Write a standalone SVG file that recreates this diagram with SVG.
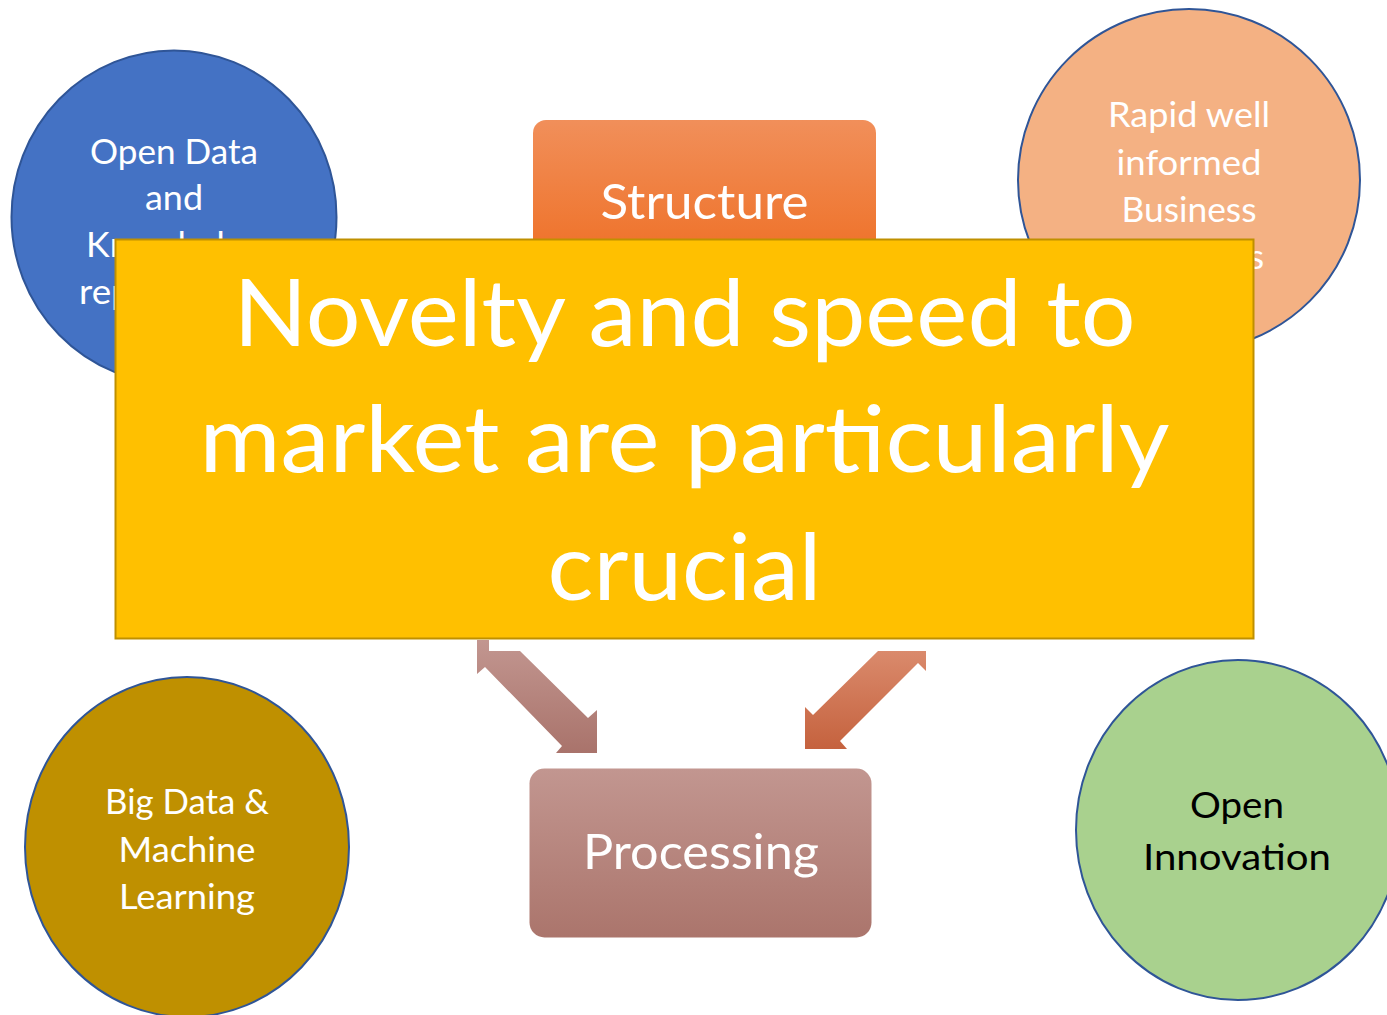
<svg xmlns="http://www.w3.org/2000/svg" width="1387" height="1015" viewBox="0 0 1387 1015">
<style>
.t{font-family:Lato,"Open Sans","Liberation Sans",sans-serif;fill:#ffffff;text-anchor:middle}
.c{stroke:#2f5597;stroke-width:2}
.ct{font-size:34px}
</style>
<defs>
<linearGradient id="gS" x1="0" y1="0" x2="0" y2="1"><stop offset="0" stop-color="#f18f5a"/><stop offset="1" stop-color="#ee6a1c"/></linearGradient>
<linearGradient id="gP" x1="0" y1="0" x2="0" y2="1"><stop offset="0" stop-color="#c29690"/><stop offset="1" stop-color="#ab756c"/></linearGradient>
<linearGradient id="gL" gradientUnits="userSpaceOnUse" x1="0" y1="640" x2="0" y2="753"><stop offset="0" stop-color="#c29690"/><stop offset="1" stop-color="#a9736b"/></linearGradient>
<linearGradient id="gR" gradientUnits="userSpaceOnUse" x1="0" y1="651" x2="0" y2="749"><stop offset="0" stop-color="#da8a6c"/><stop offset="1" stop-color="#c5623e"/></linearGradient>
</defs>
<rect width="1387" height="1015" fill="#ffffff"/>
<g id="node-open-data">
<ellipse class="c" cx="174" cy="217" rx="162.5" ry="166.5" fill="#4472c4"/>
<text class="t ct" x="174" y="164" textLength="168" lengthAdjust="spacingAndGlyphs">Open Data</text>
<text class="t ct" x="174" y="210" textLength="58" lengthAdjust="spacingAndGlyphs">and</text>
<text class="t ct" x="174" y="257" textLength="176" lengthAdjust="spacingAndGlyphs">Knowledge</text>
<text class="t ct" x="174" y="304" textLength="190" lengthAdjust="spacingAndGlyphs">repositories</text>
</g>
<g id="node-business">
<ellipse class="c" cx="1189" cy="180" rx="171" ry="171" fill="#f4b183"/>
<text class="t ct" x="1189" y="127" textLength="162" lengthAdjust="spacingAndGlyphs">Rapid well</text>
<text class="t ct" x="1189" y="175" textLength="145" lengthAdjust="spacingAndGlyphs">informed</text>
<text class="t ct" x="1189" y="222" textLength="135" lengthAdjust="spacingAndGlyphs">Business</text>
<text class="t ct" x="1189" y="269" textLength="150" lengthAdjust="spacingAndGlyphs">Decisions</text>
</g>
<g id="node-bigdata">
<ellipse class="c" cx="187" cy="847" rx="162" ry="170" fill="#bf9000"/>
<text class="t ct" x="187" y="814" textLength="164" lengthAdjust="spacingAndGlyphs">Big Data &amp;</text>
<text class="t ct" x="187" y="862" textLength="137" lengthAdjust="spacingAndGlyphs">Machine</text>
<text class="t ct" x="187" y="909" textLength="136" lengthAdjust="spacingAndGlyphs">Learning</text>
</g>
<g id="node-open-innovation">
<ellipse class="c" cx="1238" cy="830" rx="162" ry="170" fill="#a9d18e"/>
<text class="t" style="fill:#000000;font-size:37px" x="1237" y="818" textLength="94" lengthAdjust="spacingAndGlyphs">Open</text>
<text class="t" style="fill:#000000;font-size:37px" x="1237" y="870" textLength="188" lengthAdjust="spacingAndGlyphs">Innovation</text>
</g>
<g id="node-structure">
<rect x="533" y="120" width="343" height="170" rx="13" fill="url(#gS)"/>
<text class="t" style="font-size:49px" x="704.5" y="219" textLength="208" lengthAdjust="spacingAndGlyphs">Structure</text>
</g>
<g id="connectors">
<polygon points="477,640 489,640 489,651 520,651 588,718 597,710 597,753 556,753 562,746 485,667 477,674" fill="url(#gL)"/>
<polygon points="878,651 926,651 926,671 918,663 840,741 847,749 805,749 805,707 813,715" fill="url(#gR)"/>
</g>
<g id="node-processing">
<rect x="529.5" y="768.5" width="342" height="169" rx="15" fill="url(#gP)"/>
<text class="t" style="font-size:49px" x="701" y="869" textLength="236" lengthAdjust="spacingAndGlyphs">Processing</text>
</g>
<g id="node-callout">
<rect x="115.5" y="239.5" width="1138" height="399" fill="#ffc000" stroke="#bf9000" stroke-width="2"/>
<text class="t" style="font-size:94px" x="684.5" y="346" textLength="902" lengthAdjust="spacingAndGlyphs">Novelty and speed to</text>
<text class="t" style="font-size:94px" x="684.5" y="472" textLength="970" lengthAdjust="spacingAndGlyphs">market are particularly</text>
<text class="t" style="font-size:94px" x="684.5" y="600" textLength="274" lengthAdjust="spacingAndGlyphs">crucial</text>
</g>
</svg>
